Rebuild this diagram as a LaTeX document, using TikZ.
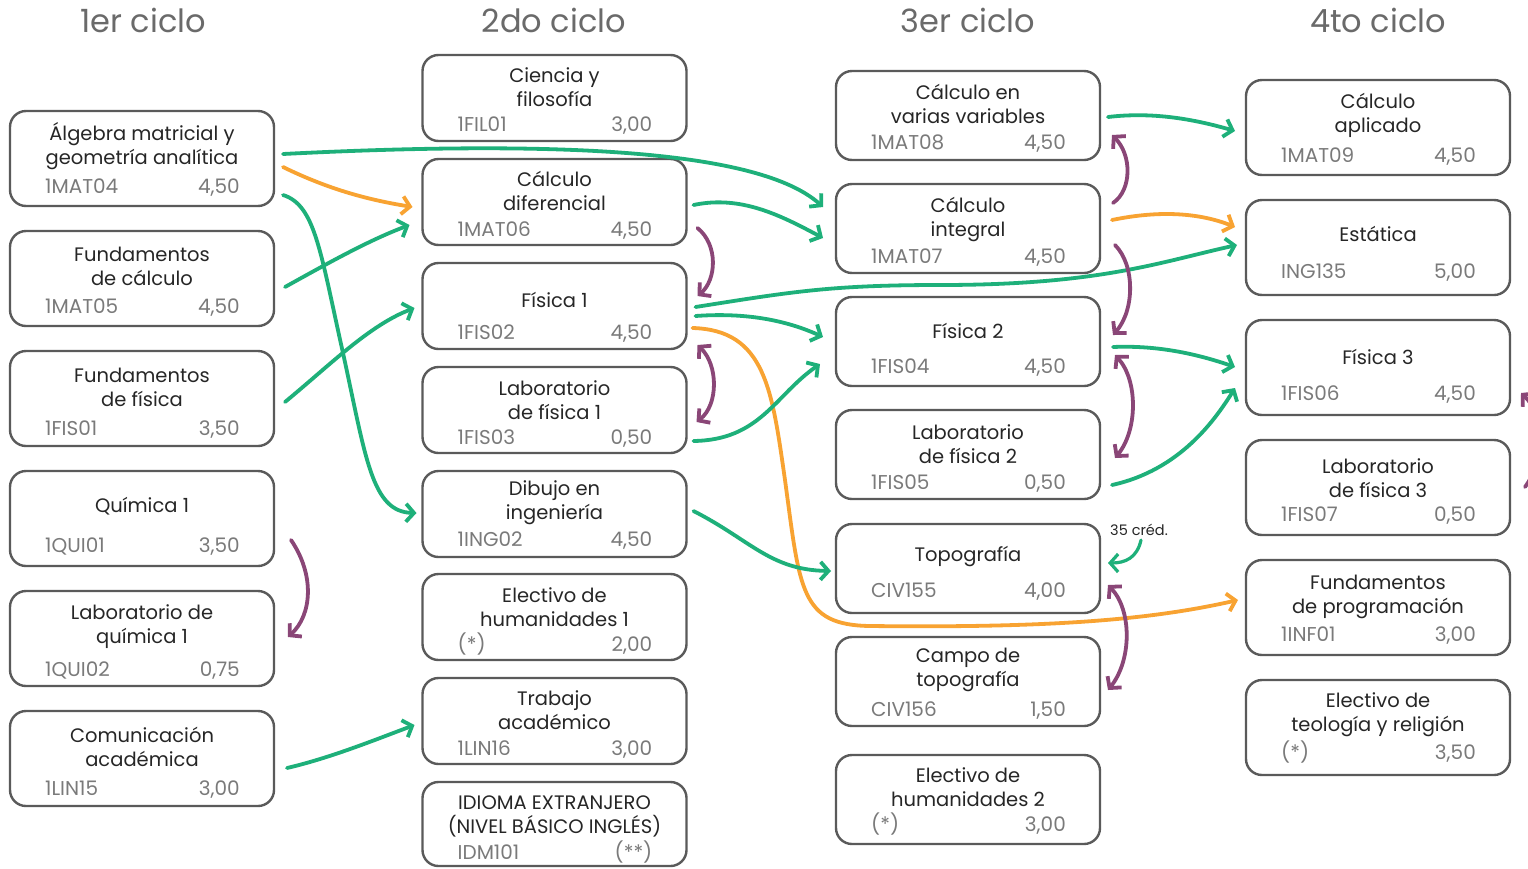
\documentclass[tikz,border=0pt]{standalone}
\usepackage{fontspec}
\setmainfont{Poppins}
\usetikzlibrary{arrows.meta,calc}
\definecolor{grn}{HTML}{1EB07A}
\definecolor{org}{HTML}{F8A332}
\definecolor{pur}{HTML}{8A4677}
\definecolor{bord}{HTML}{5A5A5A}
\definecolor{ttl}{HTML}{262626}
\definecolor{cod}{HTML}{7A7A7A}
\definecolor{hdr}{HTML}{6A6A6A}
\tikzset{
  cbox/.style={draw=bord, line width=2.4pt, rounded corners=16pt, minimum width=264pt, outer sep=0pt, inner sep=0pt},
  ctitle/.style={align=center, text=ttl, font=\fontsize{19.5}{24}\selectfont, inner sep=0pt},
  ccode/.style={text=cod, font=\fontsize{20}{24}\selectfont, inner sep=0pt},
  hdrs/.style={text=hdr, font=\fontsize{32}{36}\selectfont, inner sep=0pt},
  tip/.tip={Straight Barb[length=8pt,width=18pt]},
  conn/.style={line width=3.8pt, line cap=round, line join=round},
  garr/.style={conn, draw=grn, -tip},
  oarr/.style={conn, draw=org, -tip},
  parr/.style={conn, draw=pur, -tip},
  pboth/.style={conn, draw=pur, tip-tip},
}
\newcommand\course[9]{%
  \node[cbox, minimum height=#4pt] (#1) at (#2,{#3+#4/2}) {};
  \node[ctitle] (#1t) at (#2,{#3+#5+1.5}) {#7};
  \node[ccode, anchor=mid west] (#1c) at ($(#1.south west)+(35,{-#6+5})$) {#8};
  \node[ccode, anchor=mid east] (#1r) at ($(#1.south east)+(-34,{-#6+5})$) {#9};
}
\begin{document}
\begin{tikzpicture}[x=1pt,y=-1pt]
\useasboundingbox[fill=white] (0,0) rectangle (1528,868);
% headers
\node[hdrs, anchor=mid] (h1) at (143,30) {1er ciclo};
\node[hdrs, anchor=mid] (h2) at (554,30) {2do ciclo};
\node[hdrs, anchor=mid] (h3) at (968,30) {3er ciclo};
\node[hdrs, anchor=mid] (h4) at (1378,30) {4to ciclo};
% column 1
\course{alg}{142}{111}{95}{34}{20}{Álgebra matricial y\\geometría analítica}{1MAT04}{4,50}
\course{fcal}{142}{231}{95}{34}{20}{Fundamentos\\de cálculo}{1MAT05}{4,50}
\course{ffis}{142}{351}{95}{35}{18}{Fundamentos\\de física}{1FIS01}{3,50}
\course{qui}{142}{471}{95}{34}{21}{Química 1}{1QUI01}{3,50}
\course{lqui}{142}{591}{95}{34}{17}{Laboratorio de\\química 1}{1QUI02}{0,75}
\course{com}{142}{711}{95}{34}{18}{Comunicación\\académica}{1LIN15}{3,00}
% column 2
\course{cyf}{554.5}{55}{86}{31}{17}{Ciencia y\\filosofía}{1FIL01}{3,00}
\course{cdif}{554.5}{159}{86}{30}{16}{Cálculo\\diferencial}{1MAT06}{4,50}
\course{fis1}{554.5}{263}{86}{35}{17}{Física 1}{1FIS02}{4,50}
\course{lf1}{554.5}{367}{86}{32}{16}{Laboratorio\\de física 1}{1FIS03}{0,50}
\course{dib}{554.5}{471}{86}{30}{18}{Dibujo en\\ingeniería}{1ING02}{4,50}
\course{eh1}{554.5}{574}{86}{32}{16}{Electivo de\\humanidades 1}{(*)}{2,00}
\course{tra}{554.5}{678}{86}{31}{16}{Trabajo\\académico}{1LIN16}{3,00}
\course{idm}{554.5}{782}{84}{33}{14}{IDIOMA EXTRANJERO\\(NIVEL BÁSICO INGLÉS)}{IDM101}{(**)}
% column 3
\course{cvv}{968}{71}{89}{31}{18}{Cálculo en\\varias variables}{1MAT08}{4,50}
\course{cint}{968}{184}{89}{34}{17}{Cálculo\\integral}{1MAT07}{4,50}
\course{fis2}{968}{297}{89}{32}{20}{Física 2}{1FIS04}{4,50}
\course{lf2}{968}{410}{89}{33}{17}{Laboratorio\\de física 2}{1FIS05}{0,50}
\course{topo}{968}{524}{89}{31}{23}{Topografía}{CIV155}{4,00}
\course{ctopo}{968}{637}{89}{31}{17}{Campo de\\topografía}{CIV156}{1,50}
\course{eh2}{968}{755}{89}{31}{20}{Electivo de\\humanidades 2}{(*)}{3,00}
% column 4
\course{capl}{1378}{80}{95}{34}{20}{Cálculo\\aplicado}{1MAT09}{4,50}
\course{est}{1378}{200}{95}{32}{24}{Estática}{ING135}{5,00}
\course{fis3}{1378}{320}{95}{35}{22}{Física 3}{1FIS06}{4,50}
\course{lf3}{1378}{440}{95}{37}{21}{Laboratorio\\de física 3}{1FIS07}{0,50}
\course{fprog}{1378}{560}{95}{35}{21}{Fundamentos\\de programación}{1INF01}{3,00}
\course{eteo}{1378}{680}{95}{33}{23}{Electivo de\\teología y religión}{(*)}{3,50}
% label
\node[text=ttl, font=\fontsize{14.5}{16}\selectfont, inner sep=0pt, anchor=mid] (cred) at (1139,533) {35 créd.};
% waypoints
\coordinate (w3) at ($(alg.north east)+(69,242)$);
\coordinate (w10) at ($(fis2.north west)+(104,-12)$);
\coordinate (w12a) at ($(lf2.north west)+(-51,70)$);
\coordinate (w12b) at ($(topo.south west)+(34,13)$);
% connectors, cycle 1
\draw[garr] ($(alg.north east)+(9,43)$) .. controls +(277,-14) and +(-63,-57) .. ($(cint.north west)+(-13,23)$);
\draw[oarr] ($(alg.north east)+(9,56)$) .. controls +(47,23) and +(-43,-7) .. ($(cdif.north west)+(-10,48)$);
\draw[garr] ($(alg.north east)+(9,84)$) .. controls +(32,10) and +(-23,-103) .. (w3)
   .. controls +(23,105) and +(-45,-1) .. ($(dib.north west)+(-6,42)$);
\draw[garr] ($(fcal.north east)+(11,56)$) .. controls +(45,-25) and +(-40,15) .. ($(cdif.north west)+(-13,66)$);
\draw[garr] ($(ffis.north east)+(11,51)$) .. controls +(45,-37) and +(-45,17) .. ($(fis1.north west)+(-8,45)$);
\draw[parr] ($(qui.north east)+(17,69)$) .. controls +(24,35) and +(24,-22) .. ($(lqui.north east)+(14,46)$);
\draw[garr] ($(com.north east)+(13,57)$) .. controls +(43,-10) and +(-40,15) .. ($(tra.north west)+(-8,47)$);
% cycle 2
\draw[garr] ($(cdif.north east)+(7,46)$) .. controls +(47,-10) and +(-43,-23) .. ($(cint.north west)+(-13,54)$);
\draw[parr] ($(cdif.north east)+(11,69)$) .. controls +(21,17) and +(19,-16) .. ($(fis1.north east)+(11,33)$);
\draw[garr] ($(fis1.north east)+(9,44)$) .. controls +(95,-15) and +(-110,0) .. (w10)
   .. controls +(160,0) and +(-77,17) .. ($(est.north west)+(-9,45)$);
\draw[garr] ($(fis1.north east)+(9,53)$) .. controls +(55,-4) and +(-33,-15) .. ($(fis2.north west)+(-13,40)$);
\draw[oarr] ($(fis1.north east)+(6,65)$) .. controls +(73,2) and +(-13,-90) .. (w12a)
   .. controls +(15,110) and +(-70,-1) .. (w12b)
   .. controls +(180,2) and +(-88,20) .. ($(fprog.north west)+(-8,40)$);
\draw[pboth] ($(fis1.north east)+(11,82)$) .. controls +(21,20) and +(22,-17) .. ($(lf1.north east)+(10,55)$);
\draw[garr] ($(lf1.north east)+(7,74)$) .. controls +(67,-1) and +(-45,31) .. ($(fis2.north west)+(-16,67)$);
\draw[garr] ($(dib.north east)+(7,40)$) .. controls +(57,29) and +(-61,-1) .. ($(topo.north west)+(-5,47)$);
% cycle 3
\draw[garr] ($(cvv.north east)+(8,46)$) .. controls +(42,-5) and +(-45,-13) .. ($(capl.north west)+(-11,51)$);
\draw[parr] ($(cint.north east)+(13,19)$) .. controls +(19,-13) and +(20,20) .. ($(cvv.north east)+(12,64)$);
\draw[oarr] ($(cint.north east)+(12,36)$) .. controls +(48,-10) and +(-35,-14) .. ($(est.north west)+(-11,27)$);
\draw[parr] ($(cint.north east)+(15,61)$) .. controls +(20,20) and +(22,-25) .. ($(fis2.north east)+(13,38)$);
\draw[garr] ($(fis2.north east)+(13,50)$) .. controls +(47,-2) and +(-35,-12) .. ($(fis3.north west)+(-11,47)$);
\draw[pboth] ($(fis2.north east)+(15,58)$) .. controls +(23,25) and +(23,-28) .. ($(lf2.north east)+(15,48)$);
\draw[garr] ($(lf2.north east)+(12,75)$) .. controls +(68,-15) and +(-20,32) .. ($(fis3.north west)+(-11,68)$);
\draw[garr, line width=3.2pt] ($(cred.south)+(2,4)$) .. controls +(-4,18) and +(17,0) .. ($(topo.north east)+(8,39)$);
\draw[pboth] ($(topo.north east)+(8,61)$) .. controls +(24,25) and +(24,-30) .. ($(ctopo.north east)+(8,53)$);
% cycle 4 (cut off at the edge)
\draw[parr] ($(lf3.north east)+(15,47)$) .. controls +(20,-27) and +(24,22) .. ($(fis3.north east)+(11,73)$);
\end{tikzpicture}
\end{document}
